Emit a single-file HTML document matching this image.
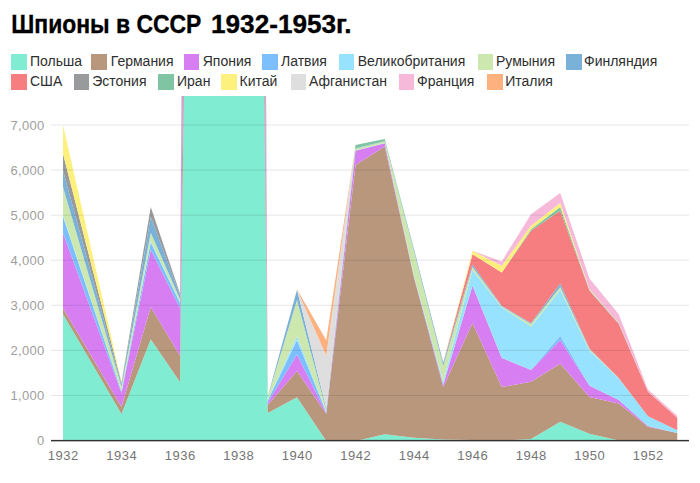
<!DOCTYPE html>
<html><head><meta charset="utf-8"><title>Шпионы в СССР</title>
<style>
html,body{margin:0;padding:0;background:#fff;}
body{width:700px;height:483px;position:relative;overflow:hidden;font-family:"Liberation Sans",sans-serif;}
.title{position:absolute;left:11px;top:10.3px;font-size:24.4px;font-weight:bold;color:#000;white-space:nowrap;line-height:28px;letter-spacing:0px}
.sw{position:absolute;width:15.6px;height:15.4px}
.lt{position:absolute;font-size:14px;line-height:16px;color:#2e2e2e;white-space:nowrap}
.tt{font-family:"Liberation Sans",sans-serif;font-size:25.8px;font-weight:bold;fill:#000}
.yl{font-family:"Liberation Sans",sans-serif;font-size:13px;fill:#9e9e9e;letter-spacing:0.3px}
.xl{font-family:"Liberation Sans",sans-serif;font-size:13px;fill:#757575;letter-spacing:0.5px}
</style></head><body>
<svg width="700" height="483" viewBox="0 0 700 483" style="position:absolute;left:0;top:0"><defs><clipPath id="c"><rect x="51" y="96" width="638" height="345.5"/></clipPath></defs><g clip-path="url(#c)"><polygon points="63.00,314.3 92.25,364.1 121.50,414.0 150.75,339.3 180.00,382.0 209.25,-1812.0 238.50,-2275.0 267.75,413.0 297.00,397.2 326.25,441.0 355.50,441.0 384.75,434.3 414.00,437.7 443.25,439.5 472.50,440.0 501.75,440.5 531.00,439.0 560.25,421.8 589.50,433.8 618.75,440.5 648.00,441.0 677.25,441.0 677.25,441.0 648.00,441.0 618.75,441.0 589.50,441.0 560.25,441.0 531.00,441.0 501.75,441.0 472.50,441.0 443.25,441.0 414.00,441.0 384.75,441.0 355.50,441.0 326.25,441.0 297.00,441.0 267.75,441.0 238.50,441.0 209.25,441.0 180.00,441.0 150.75,441.0 121.50,441.0 92.25,441.0 63.00,441.0" fill="#80ECD2"/><polygon points="63.00,308.0 92.25,357.5 121.50,407.0 150.75,307.0 180.00,355.7 209.25,-2350.0 238.50,-2900.0 267.75,404.9 297.00,371.1 326.25,414.1 355.50,165.0 384.75,146.4 414.00,277.8 443.25,387.1 472.50,322.9 501.75,387.1 531.00,381.7 560.25,363.8 589.50,397.1 618.75,403.6 648.00,426.8 677.25,433.1 677.25,441.0 648.00,441.0 618.75,440.5 589.50,433.8 560.25,421.8 531.00,439.0 501.75,440.5 472.50,440.0 443.25,439.5 414.00,437.7 384.75,434.3 355.50,441.0 326.25,441.0 297.00,397.2 267.75,413.0 238.50,-2275.0 209.25,-1812.0 180.00,382.0 150.75,339.3 121.50,414.0 92.25,364.1 63.00,314.3" fill="#B8977C"/><polygon points="63.00,233.0 92.25,313.0 121.50,393.0 150.75,249.7 180.00,308.0 209.25,-3050.0 238.50,-4000.0 267.75,402.5 297.00,354.6 326.25,412.9 355.50,150.7 384.75,143.3 414.00,277.0 443.25,384.8 472.50,285.7 501.75,357.9 531.00,370.0 560.25,340.0 589.50,385.7 618.75,400.0 648.00,426.0 677.25,433.0 677.25,433.1 648.00,426.8 618.75,403.6 589.50,397.1 560.25,363.8 531.00,381.7 501.75,387.1 472.50,322.9 443.25,387.1 414.00,277.8 384.75,146.4 355.50,165.0 326.25,414.1 297.00,371.1 267.75,404.9 238.50,-2900.0 209.25,-2350.0 180.00,355.7 150.75,307.0 121.50,407.0 92.25,357.5 63.00,308.0" fill="#D77EF3"/><polygon points="63.00,216.5 92.25,304.0 121.50,391.5 150.75,242.5 180.00,303.0 209.25,-3080.0 238.50,-4030.0 267.75,400.6 297.00,340.3 326.25,412.1 355.50,150.6 384.75,143.2 414.00,276.5 443.25,384.0 472.50,285.5 501.75,357.7 531.00,369.8 560.25,335.7 589.50,385.5 618.75,400.0 648.00,426.0 677.25,433.0 677.25,433.0 648.00,426.0 618.75,400.0 589.50,385.7 560.25,340.0 531.00,370.0 501.75,357.9 472.50,285.7 443.25,384.8 414.00,277.0 384.75,143.3 355.50,150.7 326.25,412.9 297.00,354.6 267.75,402.5 238.50,-4000.0 209.25,-3050.0 180.00,308.0 150.75,249.7 121.50,393.0 92.25,313.0 63.00,233.0" fill="#7DBEFC"/><polygon points="63.00,215.0 92.25,303.0 121.50,391.0 150.75,241.1 180.00,302.0 209.25,-3100.0 238.50,-4060.0 267.75,400.3 297.00,336.3 326.25,411.8 355.50,150.4 384.75,143.1 414.00,276.3 443.25,381.6 472.50,270.0 501.75,307.5 531.00,326.4 560.25,290.0 589.50,350.7 618.75,378.6 648.00,416.3 677.25,430.2 677.25,433.0 648.00,426.0 618.75,400.0 589.50,385.5 560.25,335.7 531.00,369.8 501.75,357.7 472.50,285.5 443.25,384.0 414.00,276.5 384.75,143.2 355.50,150.6 326.25,412.1 297.00,340.3 267.75,400.6 238.50,-4030.0 209.25,-3080.0 180.00,303.0 150.75,242.5 121.50,391.5 92.25,304.0 63.00,216.5" fill="#97E2FE"/><polygon points="63.00,187.0 92.25,287.0 121.50,387.0 150.75,232.8 180.00,299.0 209.25,-3160.0 238.50,-4120.0 267.75,397.1 297.00,300.0 326.25,410.3 355.50,148.7 384.75,141.3 414.00,251.2 443.25,366.0 472.50,267.1 501.75,306.5 531.00,324.0 560.25,287.1 589.50,349.3 618.75,378.3 648.00,416.3 677.25,430.2 677.25,430.2 648.00,416.3 618.75,378.6 589.50,350.7 560.25,290.0 531.00,326.4 501.75,307.5 472.50,270.0 443.25,381.6 414.00,276.3 384.75,143.1 355.50,150.4 326.25,411.8 297.00,336.3 267.75,400.3 238.50,-4060.0 209.25,-3100.0 180.00,302.0 150.75,241.1 121.50,391.0 92.25,303.0 63.00,215.0" fill="#CCE8AE"/><polygon points="63.00,170.5 92.25,277.5 121.50,384.5 150.75,216.8 180.00,295.5 209.25,-3220.0 238.50,-4200.0 267.75,396.5 297.00,289.7 326.25,408.3 355.50,148.3 384.75,141.0 414.00,249.2 443.25,362.9 472.50,264.6 501.75,305.7 531.00,322.9 560.25,283.6 589.50,348.6 618.75,378.0 648.00,416.3 677.25,430.2 677.25,430.2 648.00,416.3 618.75,378.3 589.50,349.3 560.25,287.1 531.00,324.0 501.75,306.5 472.50,267.1 443.25,366.0 414.00,251.2 384.75,141.3 355.50,148.7 326.25,410.3 297.00,300.0 267.75,397.1 238.50,-4120.0 209.25,-3160.0 180.00,299.0 150.75,232.8 121.50,387.0 92.25,287.0 63.00,187.0" fill="#7AB1D9"/><polygon points="63.00,170.5 92.25,277.5 121.50,384.5 150.75,216.8 180.00,295.5 209.25,-3230.0 238.50,-4210.0 267.75,396.5 297.00,289.7 326.25,408.3 355.50,148.3 384.75,141.0 414.00,249.2 443.25,362.8 472.50,254.3 501.75,272.6 531.00,230.7 560.25,210.7 589.50,290.8 618.75,324.0 648.00,391.8 677.25,417.8 677.25,430.2 648.00,416.3 618.75,378.0 589.50,348.6 560.25,283.6 531.00,322.9 501.75,305.7 472.50,264.6 443.25,362.9 414.00,249.2 384.75,141.0 355.50,148.3 326.25,408.3 297.00,289.7 267.75,396.5 238.50,-4200.0 209.25,-3220.0 180.00,295.5 150.75,216.8 121.50,384.5 92.25,277.5 63.00,170.5" fill="#F77E80"/><polygon points="63.00,153.7 92.25,268.2 121.50,382.7 150.75,207.0 180.00,293.6 209.25,-3835.0 238.50,-4930.0 267.75,396.5 297.00,289.7 326.25,408.3 355.50,148.3 384.75,141.0 414.00,249.2 443.25,362.8 472.50,254.3 501.75,272.6 531.00,230.7 560.25,210.7 589.50,290.8 618.75,324.0 648.00,391.8 677.25,417.8 677.25,417.8 648.00,391.8 618.75,324.0 589.50,290.8 560.25,210.7 531.00,230.7 501.75,272.6 472.50,254.3 443.25,362.8 414.00,249.2 384.75,141.0 355.50,148.3 326.25,408.3 297.00,289.7 267.75,396.5 238.50,-4210.0 209.25,-3230.0 180.00,295.5 150.75,216.8 121.50,384.5 92.25,277.5 63.00,170.5" fill="#999A9B"/><polygon points="63.00,153.7 92.25,268.2 121.50,382.7 150.75,207.0 180.00,293.6 209.25,-3835.0 238.50,-4930.0 267.75,396.5 297.00,289.7 326.25,408.3 355.50,145.0 384.75,139.0 414.00,249.0 443.25,362.6 472.50,254.3 501.75,272.6 531.00,229.3 560.25,207.1 589.50,290.0 618.75,323.3 648.00,391.6 677.25,417.8 677.25,417.8 648.00,391.8 618.75,324.0 589.50,290.8 560.25,210.7 531.00,230.7 501.75,272.6 472.50,254.3 443.25,362.8 414.00,249.2 384.75,141.0 355.50,148.3 326.25,408.3 297.00,289.7 267.75,396.5 238.50,-4930.0 209.25,-3835.0 180.00,293.6 150.75,207.0 121.50,382.7 92.25,268.2 63.00,153.7" fill="#7FC4A3"/><polygon points="63.00,125.0 92.25,253.5 121.50,382.0 150.75,207.0 180.00,293.6 209.25,-3835.0 238.50,-4930.0 267.75,396.5 297.00,289.7 326.25,408.3 355.50,145.0 384.75,139.0 414.00,249.0 443.25,362.6 472.50,251.0 501.75,265.7 531.00,225.7 560.25,202.9 589.50,289.3 618.75,322.9 648.00,391.6 677.25,417.8 677.25,417.8 648.00,391.6 618.75,323.3 589.50,290.0 560.25,207.1 531.00,229.3 501.75,272.6 472.50,254.3 443.25,362.6 414.00,249.0 384.75,139.0 355.50,145.0 326.25,408.3 297.00,289.7 267.75,396.5 238.50,-4930.0 209.25,-3835.0 180.00,293.6 150.75,207.0 121.50,382.7 92.25,268.2 63.00,153.7" fill="#FDF07C"/><polygon points="63.00,125.0 92.25,253.5 121.50,382.0 150.75,207.0 180.00,293.6 209.25,-3835.0 238.50,-4930.0 267.75,396.5 297.00,289.5 326.25,356.5 355.50,145.0 384.75,139.0 414.00,249.0 443.25,362.6 472.50,251.0 501.75,265.7 531.00,225.7 560.25,202.9 589.50,289.3 618.75,322.9 648.00,391.6 677.25,417.8 677.25,417.8 648.00,391.6 618.75,322.9 589.50,289.3 560.25,202.9 531.00,225.7 501.75,265.7 472.50,251.0 443.25,362.6 414.00,249.0 384.75,139.0 355.50,145.0 326.25,408.3 297.00,289.7 267.75,396.5 238.50,-4930.0 209.25,-3835.0 180.00,293.6 150.75,207.0 121.50,382.0 92.25,253.5 63.00,125.0" fill="#DEDEDE"/><polygon points="63.00,125.0 92.25,253.5 121.50,382.0 150.75,207.0 180.00,293.6 209.25,-3835.0 238.50,-4930.0 267.75,396.5 297.00,289.4 326.25,355.7 355.50,145.0 384.75,139.0 414.00,249.0 443.25,362.6 472.50,250.7 501.75,261.4 531.00,214.3 560.25,192.9 589.50,278.6 618.75,314.3 648.00,389.5 677.25,415.7 677.25,417.8 648.00,391.6 618.75,322.9 589.50,289.3 560.25,202.9 531.00,225.7 501.75,265.7 472.50,251.0 443.25,362.6 414.00,249.0 384.75,139.0 355.50,145.0 326.25,356.5 297.00,289.5 267.75,396.5 238.50,-4930.0 209.25,-3835.0 180.00,293.6 150.75,207.0 121.50,382.0 92.25,253.5 63.00,125.0" fill="#F7B9DA"/><polygon points="63.00,125.0 92.25,253.5 121.50,382.0 150.75,207.0 180.00,293.6 209.25,-3835.0 238.50,-4930.0 267.75,396.5 297.00,289.2 326.25,340.3 355.50,145.0 384.75,139.0 414.00,249.0 443.25,362.6 472.50,250.7 501.75,261.4 531.00,214.3 560.25,192.9 589.50,278.6 618.75,314.3 648.00,389.5 677.25,415.7 677.25,415.7 648.00,389.5 618.75,314.3 589.50,278.6 560.25,192.9 531.00,214.3 501.75,261.4 472.50,250.7 443.25,362.6 414.00,249.0 384.75,139.0 355.50,145.0 326.25,355.7 297.00,289.4 267.75,396.5 238.50,-4930.0 209.25,-3835.0 180.00,293.6 150.75,207.0 121.50,382.0 92.25,253.5 63.00,125.0" fill="#FDB17E"/></g><rect x="51" y="394.93" width="638" height="1" fill="rgba(0,0,0,0.1)"/><rect x="51" y="349.86" width="638" height="1" fill="rgba(0,0,0,0.1)"/><rect x="51" y="304.79" width="638" height="1" fill="rgba(0,0,0,0.1)"/><rect x="51" y="259.72" width="638" height="1" fill="rgba(0,0,0,0.1)"/><rect x="51" y="214.65" width="638" height="1" fill="rgba(0,0,0,0.1)"/><rect x="51" y="169.58" width="638" height="1" fill="rgba(0,0,0,0.1)"/><rect x="51" y="124.51" width="638" height="1" fill="rgba(0,0,0,0.1)"/><rect x="51" y="439.9" width="638" height="1.45" fill="#333"/><text x="44.5" y="445.1" text-anchor="end" class="yl">0</text><text x="44.5" y="400.0" text-anchor="end" class="yl">1,000</text><text x="44.5" y="355.0" text-anchor="end" class="yl">2,000</text><text x="44.5" y="309.9" text-anchor="end" class="yl">3,000</text><text x="44.5" y="264.8" text-anchor="end" class="yl">4,000</text><text x="44.5" y="219.8" text-anchor="end" class="yl">5,000</text><text x="44.5" y="174.7" text-anchor="end" class="yl">6,000</text><text x="44.5" y="129.6" text-anchor="end" class="yl">7,000</text><text x="63.3" y="460" text-anchor="middle" class="xl">1932</text><text x="121.8" y="460" text-anchor="middle" class="xl">1934</text><text x="180.3" y="460" text-anchor="middle" class="xl">1936</text><text x="238.8" y="460" text-anchor="middle" class="xl">1938</text><text x="297.3" y="460" text-anchor="middle" class="xl">1940</text><text x="355.8" y="460" text-anchor="middle" class="xl">1942</text><text x="414.3" y="460" text-anchor="middle" class="xl">1944</text><text x="472.8" y="460" text-anchor="middle" class="xl">1946</text><text x="531.3" y="460" text-anchor="middle" class="xl">1948</text><text x="589.8" y="460" text-anchor="middle" class="xl">1950</text><text x="648.3" y="460" text-anchor="middle" class="xl">1952</text><text x="11.3" y="33" class="tt" stroke="#000" stroke-width="0.35" textLength="190" lengthAdjust="spacingAndGlyphs">Шпионы в СССР</text><text x="211" y="33" class="tt" stroke="#000" stroke-width="0.35" textLength="140.6" lengthAdjust="spacingAndGlyphs">1932-1953г.</text></svg>

<div class="sw" style="left:11px;top:54.2px;background:#80ECD2"></div><div class="lt" style="left:30px;top:53.1px">Польша</div><div class="sw" style="left:91.25px;top:54.2px;background:#B8977C"></div><div class="lt" style="left:110.75px;top:53.1px">Германия</div><div class="sw" style="left:183.75px;top:54.2px;background:#D77EF3"></div><div class="lt" style="left:202.75px;top:53.1px">Япония</div><div class="sw" style="left:262px;top:54.2px;background:#7DBEFC"></div><div class="lt" style="left:281px;top:53.1px">Латвия</div><div class="sw" style="left:338.75px;top:54.2px;background:#97E2FE"></div><div class="lt" style="left:357.75px;top:53.1px">Великобритания</div><div class="sw" style="left:477.5px;top:54.2px;background:#CCE8AE"></div><div class="lt" style="left:496px;top:53.1px">Румыния</div><div class="sw" style="left:566.25px;top:54.2px;background:#7AB1D9"></div><div class="lt" style="left:584px;top:53.1px">Финляндия</div><div class="sw" style="left:11px;top:74.4px;background:#F77E80"></div><div class="lt" style="left:30px;top:73.2px">США</div><div class="sw" style="left:73.5px;top:74.4px;background:#999A9B"></div><div class="lt" style="left:92.25px;top:73.2px">Эстония</div><div class="sw" style="left:158px;top:74.4px;background:#7FC4A3"></div><div class="lt" style="left:177px;top:73.2px">Иран</div><div class="sw" style="left:221.25px;top:74.4px;background:#FDF07C"></div><div class="lt" style="left:239.5px;top:73.2px">Китай</div><div class="sw" style="left:290.5px;top:74.4px;background:#DEDEDE"></div><div class="lt" style="left:309px;top:73.2px">Афганистан</div><div class="sw" style="left:398.75px;top:74.4px;background:#F7B9DA"></div><div class="lt" style="left:417px;top:73.2px">Франция</div><div class="sw" style="left:487px;top:74.4px;background:#FDB17E"></div><div class="lt" style="left:505.25px;top:73.2px">Италия</div>
</body></html>
